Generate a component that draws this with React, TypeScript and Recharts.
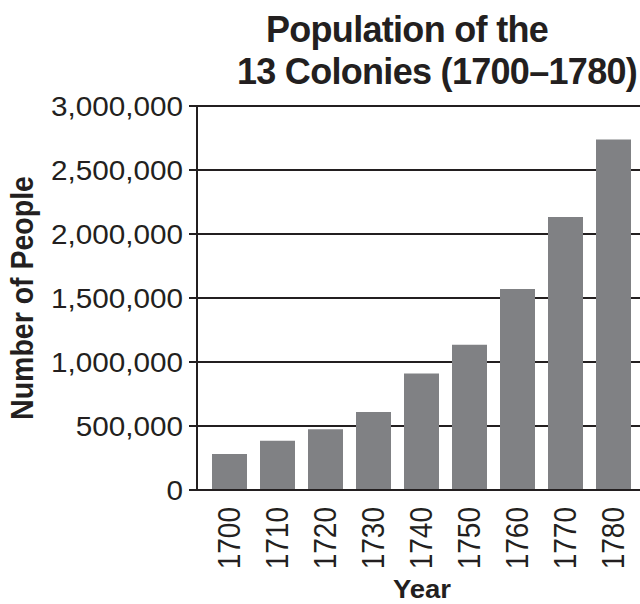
import React from 'react';
import { BarChart, Bar, XAxis, YAxis, CartesianGrid, Label } from 'recharts';

const years: string[] = ['1700', '1710', '1720', '1730', '1740', '1750', '1760', '1770', '1780'];
const population: number[] = [281000, 385000, 474000, 609000, 911000, 1134000, 1571000, 2133000, 2739000];
const yTicks: number[] = [0, 500000, 1000000, 1500000, 2000000, 2500000, 3000000];

const data = years.map((year, i) => ({ year, population: population[i] }));

const FONT = '"Liberation Sans", Arial, Helvetica, sans-serif';
const INK = '#231f20';

const fmt = (v: number) => v.toLocaleString('en-US');

const YTick = (props: any) => {
  const { x, y, payload } = props;
  return (
    <text
      transform={`translate(${x},${y}) scale(1.1,1)`}
      textAnchor="end"
      dy="0.355em"
      fontFamily={FONT}
      fontSize={27}
      fill={INK}
    >
      {fmt(payload.value)}
    </text>
  );
};

const XTick = (props: any) => {
  const { x, y, payload } = props;
  return (
    <text
      transform={`translate(${x},${y}) rotate(-90) scale(1,1.12)`}
      textAnchor="end"
      dy="0.36em"
      fontFamily={FONT}
      fontSize={28}
      fill={INK}
    >
      {payload.value}
    </text>
  );
};

export default function App() {
  return (
    <div style={{ position: 'absolute', left: 0, top: 0, width: 640, height: 604, background: '#fff' }}>
      <div
        style={{
          position: 'absolute',
          left: 0,
          top: 0,
          width: 640,
          fontFamily: FONT,
          fontWeight: 'bold',
          fontSize: 36,
          color: INK,
          letterSpacing: -0.7,
        }}
      >
        <div style={{ position: 'absolute', left: 407, top: 10, transform: 'translateX(-50%)', whiteSpace: 'nowrap', lineHeight: '40px' }}>
          Population of the
        </div>
        <div style={{ position: 'absolute', left: 437, top: 52, transform: 'translateX(-50%)', whiteSpace: 'nowrap', lineHeight: '40px' }}>
          13 Colonies (1700–1780)
        </div>
      </div>
      <BarChart
        width={640}
        height={604}
        data={data}
        margin={{ top: 106, right: 0, bottom: 0, left: 0 }}
        barSize={35}
      >
        <CartesianGrid horizontal vertical={false} stroke={INK} strokeWidth={2} strokeOpacity={1} />
        <XAxis
          dataKey="year"
          height={114}
          padding={{ left: 8, right: 3 }}
          tickLine={false}
          axisLine={{ stroke: INK, strokeWidth: 2 }}
          tick={<XTick />}
          tickMargin={11}
          interval={0}
        >
          <Label
            content={() => (
              <text transform="translate(422,598) scale(1.1,1)" textAnchor="middle" fontFamily={FONT} fontWeight="bold" fontSize={25} fill={INK}>
                Year
              </text>
            )}
          />
        </XAxis>
        <YAxis
          width={197}
          domain={[0, 3000000]}
          ticks={yTicks}
          interval={0}
          tickSize={8}
          tickMargin={6}
          tickLine={{ stroke: INK, strokeWidth: 2 }}
          axisLine={{ stroke: INK, strokeWidth: 2 }}
          tick={<YTick />}
        >
          <Label
            content={() => (
              <text
                transform="translate(33,298) rotate(-90) scale(1,1.08)"
                textAnchor="middle"
                fontFamily={FONT}
                fontWeight="bold"
                fontSize={28.5}
                fill={INK}
              >
                Number of People
              </text>
            )}
          />
        </YAxis>
        <Bar dataKey="population" fill="#808184" isAnimationActive={false} />
      </BarChart>
    </div>
  );
}
